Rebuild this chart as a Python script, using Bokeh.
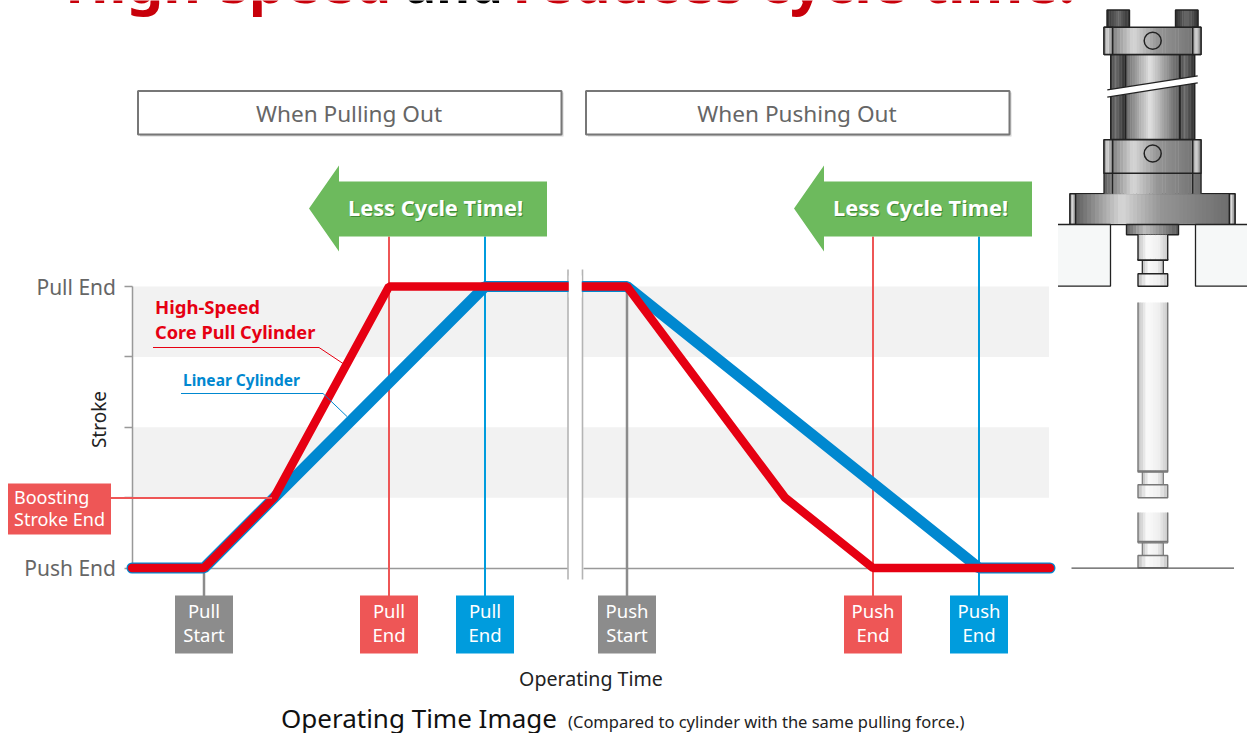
import numpy as np
from bokeh.plotting import figure
from bokeh.models import Range1d, LinearAxis, FixedTicker
from bokeh.core.properties import value
from bokeh.embed import file_html
from bokeh.resources import INLINE

# ---- data ----
pull_time_linear = [132, 204, 485, 568]
pull_stroke_linear = [0, 0, 100, 100]
push_time_linear = [583, 627, 979, 1050]
push_stroke_linear = [100, 100, 0, 0]
pull_time_fast = [132, 204, 274, 389, 568]
pull_stroke_fast = [0, 0, 25, 100, 100]
push_time_fast = [583, 627, 785, 873, 1050]
push_stroke_fast = [100, 100, 25, 0, 0]
stroke_ticks = [0, 25, 50, 75, 100]
stroke_tick_labels = {0: "Push End", 25: "", 50: "", 75: "", 100: "Pull End"}
band_low = [25, 75]
band_high = [50, 100]
event_times = [204, 389, 485, 627, 873, 979]
event_top = ["Pull", "Pull", "Pull", "Push", "Push", "Push"]
event_bottom = ["Start", "End", "End", "Start", "End", "End"]

W, H = 1247, 733
Y0, YSCALE = 567.5, 2.815
GREY, RED_T, BLUE_T = "#8c8c8c", "#ee5656", "#009cdd"
event_colors = [GREY, RED_T, BLUE_T, GREY, RED_T, BLUE_T]
RED, BLUE = "#e60012", "#0088d0"
FONT = "Noto Sans"

p = figure(width=W, height=H, output_backend="svg", toolbar_location=None,
           x_axis_type=None, y_axis_type=None,
           x_range=Range1d(0.5, W + 0.5),
           y_range=Range1d((Y0 - H) / YSCALE, Y0 / YSCALE),
           min_border=0, outline_line_color=None, background_fill_color="white",
           border_fill_color="white")
p.extra_y_ranges = {"px": Range1d(H, 0)}


def txt(x, y, s, size, color, bold=False, align="center", baseline="middle", angle=0.0):
    if baseline == "middle":
        y -= 1.5
    p.text([x], [y], text=[s], y_range_name="px", text_font=value(FONT),
           text_font_size=value(f"{size}px"), text_color=color,
           text_font_style="bold" if bold else "normal", text_align=align,
           text_baseline=baseline, angle=angle)


def box(x0, x1, y0, y1, fill, line=None, lw=1.0):
    p.quad(left=[x0], right=[x1], top=[y0], bottom=[y1], y_range_name="px",
           fill_color=fill, line_color=line, line_width=lw)


def seg(xs, ys, color, lw=1.0, cap="butt"):
    p.line(xs, ys, y_range_name="px", line_color=color, line_width=lw, line_cap=cap)


def shade(x0, x1, y0, y1, stops, n=24, outline="#222", lw=1.4):
    """vertical-strip metal shading; stops are (pos, grey level)"""
    e = np.linspace(x0, x1, n + 1)
    pos, lev = zip(*stops)
    g = np.interp((np.arange(n) + .5) / n, pos, lev).astype(int)
    p.quad(left=e[:-1], right=e[1:] + .4, top=[y0] * n, bottom=[y1] * n, y_range_name="px",
           fill_color=[f"#{v:02x}{v:02x}{v:02x}" for v in g], line_color=None)
    if outline:
        p.quad(left=[x0], right=[x1], top=[y0], bottom=[y1], y_range_name="px",
               fill_color=None, line_color=outline, line_width=lw)


# ---- title, clipped by the top of the page ----
txt(65, 19, "High-speed", 58, "#c8000a", True, "left", "bottom")
txt(405, 17.5, "and", 52, "#000000", True, "left", "bottom")
txt(513, 19, "reduces cycle time.", 59, "#c8000a", True, "left", "bottom")

# ---- header boxes ----
for x0, x1, label, cx in [(138, 561.5, "When Pulling Out", 349), (586, 1009.5, "When Pushing Out", 797)]:
    box(x0 + 2, x1 + 2, 92, 136, "#d4d4d4")
    box(x0, x1, 90.5, 134, "white", "#777777", 2)
    txt(cx, 114, label, 22.6, "#666666")

# ---- bands ----
r = p.quad(left=[132, 132], right=[1049, 1049], top=band_high, bottom=band_low,
           fill_color="#f2f2f2", line_color=None)
r.level = "image"

# ---- axes ----
yaxis = LinearAxis(fixed_location=132, bounds=(0, 100), ticker=FixedTicker(ticks=stroke_ticks),
                   major_label_overrides=stroke_tick_labels, major_tick_out=8, major_tick_in=0,
                   minor_tick_line_color=None, major_label_standoff=8,
                   axis_line_color="#999999", axis_line_width=1.5,
                   major_tick_line_color="#999999", major_tick_line_width=1.5,
                   major_label_text_font=FONT, major_label_text_font_size="21px",
                   major_label_text_line_height=0.7,
                   major_label_text_color="#666666")
yaxis.level = "underlay"
p.add_layout(yaxis, "left")
for bounds in [(132, 568), (583, 1050)]:
    xaxis = LinearAxis(fixed_location=0, bounds=bounds, ticker=FixedTicker(ticks=[]),
                       major_tick_line_color=None, minor_tick_line_color=None,
                       major_label_text_color=None,
                       axis_line_color="#999999", axis_line_width=1.5)
    xaxis.level = "underlay"
    p.add_layout(xaxis, "below")

# ---- break in the time axis ----
box(568, 583, 269, 579, "white")
seg([568, 568], [269, 579], "#b4b4b4", 1.6)
seg([582.5, 582.5], [269, 579], "#b4b4b4", 1.6)

# ---- event lines and tags ----
for t, c, top, bottom in zip(event_times, event_colors, event_top, event_bottom):
    start = {GREY: 567 if t < 500 else 286, RED_T: 236, BLUE_T: 236}[c]
    seg([t, t], [start, 596], c, 2.5 if c == GREY else 2)
    box(t - 29, t + 29, 595, 653, c)
    txt(t, 611.5, top, 18.5, "white")
    txt(t, 635.5, bottom, 18.5, "white")

# ---- less cycle time arrows ----
for dx in (0, 485):
    p.patch([309 + dx, 339 + dx, 339 + dx, 547 + dx, 547 + dx, 339 + dx, 339 + dx],
            [208, 165, 181, 181, 236, 236, 251], y_range_name="px",
            fill_color="#6dba5d", line_color=None)
    txt(436.5 + dx, 209, "Less Cycle Time!", 21.8, "#3f8a35", True)
    txt(435.5 + dx, 208, "Less Cycle Time!", 21.8, "white", True)

# ---- series ----
p.line(pull_time_linear, pull_stroke_linear, line_color=BLUE, line_width=11, line_cap="round")
p.line(push_time_linear, push_stroke_linear, line_color=BLUE, line_width=11, line_cap="round")
p.line(pull_time_fast, pull_stroke_fast, line_color=RED, line_width=8.5, line_cap="round")
p.line(push_time_fast, push_stroke_fast, line_color=RED, line_width=8.5, line_cap="round")
box(568.8, 581.7, 275, 297, "white")

# ---- annotations ----
txt(155, 307, "High-Speed", 18.5, RED, True, "left")
txt(155, 333, "Core Pull Cylinder", 18.2, RED, True, "left")
seg([153, 319, 343], [347, 347, 363], RED, 1)
txt(183, 381, "Linear Cylinder", 15.5, BLUE, True, "left")
seg([181, 323, 347], [393, 393, 416], BLUE, 1)
seg([111, 272], [497.5, 497.5], RED_T, 2)
box(8, 111, 483, 534, RED_T)
txt(14, 498, "Boosting", 18, "white", False, "left")
txt(14, 520, "Stroke End", 18, "white", False, "left")
txt(99, 420.5, "Stroke", 19, "#222222", angle=np.pi / 2)
txt(591, 679, "Operating Time", 19.6, "#222222")
txt(281, 719, "Operating Time Image", 26, "#111111", False, "left")
txt(568, 722, "(Compared to cylinder with the same pulling force.)", 16.5, "#222222", False, "left")

# ---- cylinder drawing ----
metal = [(0, 95), (.3, 215), (.55, 150), (1, 110)]
body = [(0, 105), (.45, 225), (1, 90)]
rod_dark = [(0, 60), (.3, 110), (1, 45)]
rod_light = [(0, 190), (.3, 250), (.7, 240), (1, 200)]
side = [(0, 130), (.4, 225), (1, 120)]
for x0, x1 in [(1107, 1129.5), (1175.5, 1198)]:
    shade(x0, x1, 9.5, 27, [(0, 50), (.5, 105), (1, 50)], 10)
for x0, x1 in [(1110.7, 1125.7), (1179.7, 1194.7)]:
    shade(x0, x1, 54, 139, rod_dark, 10)
shade(1125.7, 1179.7, 54, 139, body)
# slanted break
p.patch([1106, 1198.5, 1198.5, 1106], [89.5, 75.3, 82.3, 96.9], y_range_name="px",
        fill_color="white", line_color=None)
seg([1107.3, 1197.7], [89.3, 75.3], "#222", 1.3)
seg([1107.3, 1197.7], [96.7, 82.3], "#222", 1.3)
# blocks
shade(1070, 1235, 193.3, 224, metal, 40)
shade(1104, 1201, 172.7, 194, metal, 30, None)
seg([1104, 1104, 1112.5, 1112.5], [193.3, 172.7, 172.7, 193.3], "#222", 1.3)
seg([1201, 1201, 1192.7, 1192.7], [193.3, 172.7, 172.7, 193.3], "#222", 1.3)
shade(1075.7, 1229.3, 193.8, 223.5, metal, 40, None)
for x0, x1 in [(1070, 1075.7), (1229.3, 1235)]:
    shade(x0, x1, 193.3, 224, side, 4)
for y0, y1 in [(26.7, 54), (139.3, 172.7)]:
    shade(1104, 1201, y0, y1, metal, 30)
    for x0, x1 in [(1104, 1112.7), (1192.7, 1201)]:
        shade(x0, x1, y0, y1, side, 5)
for cy in (40.3, 153):
    p.scatter([1152.7], [cy], y_range_name="px", marker="circle", size=17, fill_color=None,
              line_color="#222", line_width=1.5)
# mould blocks
box(1058, 1110.5, 224, 285.7, "#f6f8f8")
box(1195.5, 1248, 224, 285.7, "#f6f8f8")
seg([1058, 1110.5, 1110.5, 1058], [224, 224, 285.7, 285.7], "#222", 1.3)
seg([1248, 1195.5, 1195.5, 1248], [224, 224, 285.7, 285.7], "#222", 1.3)
# piston rod pieces
shade(1126.5, 1178.5, 224, 234.3, [(0, 100), (.35, 190), (1, 90)], 16)
for (r0, r1, n0, n1, h0, h1), ln in zip(
        [(234.3, 259.5, 260, 273.3, 273.3, 285.7),
         (302, 470.5, 471.7, 484.3, 484.3, 497.3),
         (512, 541, 542.3, 555, 555, 567.3)], ["#222", "#777", "#777"]):
    shade(1138, 1167.7, n0 - 1.5, n0, rod_light, 8, ln, 1.2)
    shade(1142.3, 1163.3, n0, n1, rod_light, 8, ln, 1.2)
    shade(1138, 1167.7, r0, r1, rod_light, 12, None)
    seg([1138, 1138, 1167.7, 1167.7], [r0, r1, r1, r0], ln, 1.4)
    shade(1138, 1167.7, h0, h1, rod_light, 8, ln, 1.4)
seg([1071.5, 1234], [567.7, 567.7], "#555555", 1.3)

open("out.html", "w").write(file_html(p, INLINE))
